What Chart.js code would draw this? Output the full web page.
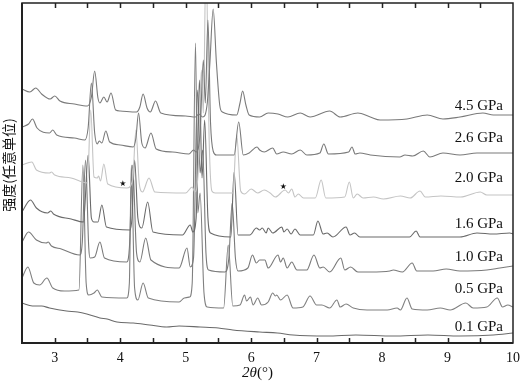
<!DOCTYPE html>
<html>
<head>
<meta charset="utf-8">
<script src="https://cdn.jsdelivr.net/npm/chart.js@4/dist/chart.umd.min.js"></script>
<style>
  html, body { margin: 0; padding: 0; background: #fff; }
</style>
</head>
<body>
<canvas id="chart" width="520" height="382"></canvas>
<script>
// XRD patterns, 2theta (deg) vs intensity (a.u., curves stacked by pressure)
const pressureLabels = ['4.5 GPa', '2.6 GPa', '2.0 GPa', '1.6 GPa', '1.0 GPa', '0.5 GPa', '0.1 GPa'];
const labelLevels = [239, 207, 167, 121, 88, 56, 18];

const gpa45 = [[2.5,254],[2.62,251],[2.71,255],[2.8,249],[2.93,244],[3.0,247],[3.08,242],[3.3,239],[3.5,237],[3.56,246],[3.61,272],[3.66,245],[3.69,240],[3.75,246],[3.8,241],[3.86,250],[3.93,233],[4.0,232],[4.25,231],[4.3,236],[4.35,249],[4.41,235],[4.46,231],[4.54,242],[4.62,230],[5.0,227],[5.15,226],[5.2,229],[5.26,226],[5.33,240],[5.37,280],[5.42,334],[5.47,280],[5.52,238],[5.56,231],[5.78,228],[5.83,240],[5.87,252],[5.92,238],[5.97,228],[6.13,226],[6.26,230],[6.41,229],[6.56,226],[6.75,230],[6.9,226],[7.2,232],[7.36,226],[7.63,230],[7.82,226],[7.97,223],[8.38,224],[8.69,228],[8.93,224],[9.19,226],[9.54,230],[9.7,228],[10,228]];

const gpa26 = [[2.5,216],[2.6,219],[2.66,224],[2.73,215],[2.92,210],[2.97,213],[3.03,208],[3.3,205],[3.46,203],[3.51,215],[3.56,260],[3.61,210],[3.65,199],[3.68,202],[3.72,200],[3.78,212],[3.84,201],[4.0,198],[4.2,196],[4.24,205],[4.28,230],[4.33,200],[4.38,195],[4.47,210],[4.55,194],[4.8,191],[5.05,189],[5.12,193],[5.16,191],[5.22,210],[5.27,283],[5.3,240],[5.34,323],[5.38,220],[5.42,192],[5.47,188],[5.74,188],[5.81,221],[5.88,188],[5.97,190],[6.09,196],[6.13,193],[6.2,191],[6.33,195],[6.39,189],[6.49,191],[6.62,189],[6.75,193],[6.85,188],[7.05,190],[7.11,199],[7.18,189],[7.49,191],[7.54,196],[7.59,189],[7.66,190],[7.82,188],[8.27,186],[8.35,188],[8.47,187],[8.63,192],[8.73,186],[8.93,190],[9.19,188],[9.45,190],[9.7,190],[10,190]];

const gpa20 = [[2.5,178],[2.65,181],[2.72,173],[2.92,170],[2.95,171],[3.0,168],[3.25,165],[3.5,160],[3.55,233],[3.6,166],[3.65,165],[3.67,167],[3.7,162],[3.75,179],[3.81,159],[4.1,155],[4.19,163],[4.24,213],[4.29,160],[4.34,151],[4.44,165],[4.53,151],[5.0,150],[5.1,156],[5.14,151],[5.19,170],[5.24,273],[5.27,230],[5.31,383],[5.36,200],[5.4,152],[5.45,150],[5.72,150],[5.78,208],[5.84,152],[5.9,149],[6.0,154],[6.1,150],[6.2,153],[6.29,150],[6.37,146],[6.52,153],[6.57,150],[6.62,154],[6.67,146],[6.72,149],[6.8,145],[6.98,145],[7.07,163],[7.14,145],[7.43,146],[7.5,161],[7.56,145],[7.62,149],[7.71,145],[7.87,146],[8.02,144],[8.28,147],[8.43,145],[8.58,152],[8.66,146],[8.9,147],[9.2,146],[9.5,151],[9.6,148],[10,148]];

const gpa16 = [[2.5,131],[2.63,143],[2.72,135],[2.89,130],[2.94,132],[2.98,129],[3.25,124],[3.44,121],[3.51,188],[3.56,125],[3.6,121],[3.66,121],[3.72,138],[3.79,116],[4.15,113],[4.18,125],[4.22,183],[4.27,125],[4.33,115],[4.42,141],[4.5,111],[4.95,108],[5.07,118],[5.11,111],[5.16,125],[5.21,263],[5.25,165],[5.29,223],[5.34,125],[5.38,110],[5.69,106],[5.74,171],[5.8,108],[5.98,108],[6.08,115],[6.13,113],[6.17,115],[6.23,110],[6.26,115],[6.33,110],[6.47,116],[6.5,111],[6.55,114],[6.61,109],[6.67,114],[6.75,108],[6.95,108],[7.02,122],[7.1,109],[7.16,110],[7.25,106],[7.45,116],[7.51,108],[7.58,110],[7.66,106],[8.42,106],[8.52,112],[8.58,106],[9.19,106],[9.45,110],[9.7,109],[9.95,110],[10,109]];

const gpa10 = [[2.5,101],[2.6,111],[2.72,103],[2.87,100],[2.9,101],[2.95,97],[3.1,94],[3.38,88],[3.42,100],[3.47,183],[3.52,95],[3.54,85],[3.61,86],[3.69,101],[3.76,85],[4.1,81],[4.14,95],[4.19,178],[4.25,90],[4.3,81],[4.39,105],[4.47,83],[4.9,75],[5.02,95],[5.07,76],[5.12,85],[5.18,253],[5.22,170],[5.26,193],[5.31,90],[5.35,73],[5.6,71],[5.66,85],[5.71,140],[5.76,85],[5.8,72],[5.95,75],[6.02,88],[6.08,80],[6.13,83],[6.21,83],[6.26,75],[6.41,88],[6.45,81],[6.49,85],[6.55,75],[6.62,81],[6.7,73],[6.85,73],[6.96,88],[7.05,75],[7.1,76],[7.2,71],[7.37,85],[7.43,73],[7.52,76],[7.63,71],[7.82,71],[8.12,72],[8.17,73],[8.31,71],[8.46,80],[8.53,72],[8.78,72],[8.98,74],[9.19,72],[9.6,73],[9.8,75],[10,77]];

const gpa05 = [[2.5,65],[2.59,76],[2.68,60],[2.77,58],[2.88,65],[2.97,55],[3.15,52],[3.37,53],[3.43,178],[3.48,60],[3.52,48],[3.6,50],[3.65,53],[3.72,46],[4.1,45],[4.14,60],[4.17,178],[4.22,55],[4.27,43],[4.35,60],[4.43,45],[4.9,41],[4.98,45],[5.06,46],[5.1,60],[5.15,300],[5.185,130],[5.22,150],[5.28,50],[5.33,36],[5.58,35],[5.65,98],[5.72,37],[5.83,38],[5.9,48],[5.93,42],[5.99,46],[6.03,38],[6.1,45],[6.16,38],[6.26,41],[6.33,50],[6.37,47],[6.39,48],[6.45,43],[6.55,48],[6.64,35],[6.79,36],[6.9,47],[7.0,38],[7.08,38],[7.2,35],[7.31,43],[7.36,36],[7.45,39],[7.56,35],[7.77,33],[8.08,33],[8.23,35],[8.28,33],[8.38,45],[8.46,34],[8.69,33],[8.89,35],[9.04,33],[9.28,40],[9.39,35],[9.6,36],[9.76,45],[9.84,36],[9.92,38],[10,36]];

const gpa01 = [[2.5,40],[2.66,37],[2.8,37],[2.92,35],[3.18,32],[3.35,31],[3.49,29],[3.69,25],[3.8,24],[3.95,21],[4.2,20],[4.45,18],[4.71,16],[4.9,17],[5.22,16],[5.5,15],[5.72,13],[6.13,11],[6.4,10],[6.64,8],[7.16,7],[7.6,8],[8.17,7],[8.7,8],[9.19,7],[9.7,8],[10,10]];

// impurity markers (*)
const starX = [4.04, 6.49];
const starY = [159, 156];

const series = [gpa45, gpa26, gpa20, gpa16, gpa10, gpa05, gpa01];
const lineColors = ['#7a7a7a', '#7a7a7a', '#c4c4c4', '#6a6a6a', '#7a7a7a', '#808080', '#6a6a6a'];

const decor = {
  id: 'decor',
  afterDraw(chart) {
    const { ctx, chartArea: a, scales: { x, y } } = chart;
    ctx.save();

    // frame
    ctx.strokeStyle = '#222';
    ctx.lineWidth = 1.5;
    ctx.strokeRect(a.left, a.top, a.right - a.left, a.bottom - a.top);
    ctx.lineWidth = 2;
    ctx.beginPath();
    ctx.moveTo(a.left, a.top);
    ctx.lineTo(a.left, a.bottom);
    ctx.lineTo(a.right, a.bottom);
    ctx.stroke();

    // inward tick marks top and bottom
    ctx.lineWidth = 1.5;
    x.ticks.forEach(t => {
      if (t.value <= x.min || t.value >= x.max) return;
      const px = Math.round(x.getPixelForValue(t.value)) + 0.5;
      ctx.beginPath();
      ctx.moveTo(px, a.bottom);
      ctx.lineTo(px, a.bottom - 5);
      ctx.moveTo(px, a.top);
      ctx.lineTo(px, a.top + 5);
      ctx.stroke();
    });

    // pressure labels
    ctx.fillStyle = '#111';
    ctx.font = '15px "Liberation Serif"';
    ctx.textAlign = 'right';
    ctx.textBaseline = 'alphabetic';
    pressureLabels.forEach((s, i) => {
      ctx.fillText(s, a.right - 10, y.getPixelForValue(labelLevels[i]) + 5.5);
    });

    // stars
    ctx.font = '8px "DejaVu Sans"';
    ctx.textAlign = 'center';
    ctx.textBaseline = 'middle';
    starX.forEach((v, i) => {
      ctx.fillText('\u2605', x.getPixelForValue(v), y.getPixelForValue(starY[i]));
    });

    // x title: 2θ(°)
    ctx.textBaseline = 'alphabetic';
    ctx.textAlign = 'left';
    const it = 'italic 15px "Liberation Serif"';
    const nm = '15px "Liberation Serif"';
    ctx.font = it;
    const w1 = ctx.measureText('2\u03b8').width;
    ctx.font = nm;
    const w2 = ctx.measureText('(\u00b0)').width;
    const x0 = (a.left + a.right) / 2 - 10 - (w1 + w2) / 2;
    ctx.font = it;
    ctx.fillText('2\u03b8', x0, 377);
    ctx.font = nm;
    ctx.fillText('(\u00b0)', x0 + w1, 377);

    // y title
    ctx.translate(9, (a.top + a.bottom) / 2 - 8);
    ctx.rotate(-Math.PI / 2);
    ctx.font = '14px "Noto Sans CJK SC"';
    ctx.textAlign = 'center';
    ctx.textBaseline = 'middle';
    ctx.fillText('强度(任意单位)', 0, 0);

    ctx.restore();
  }
};

const ctx = document.getElementById('chart').getContext('2d');
new Chart(ctx, {
  type: 'line',
  data: {
    datasets: series.map((d, i) => ({
      label: pressureLabels[i],
      data: d.map(p => ({ x: p[0], y: p[1] })),
      borderColor: lineColors[i],
      borderWidth: 1.1,
      pointRadius: 0,
      fill: false,
      cubicInterpolationMode: 'monotone'
    }))
  },
  options: {
    responsive: false,
    animation: false,
    events: [],
    layout: { padding: { left: 22, right: 0, top: 3, bottom: 12 } },
    plugins: { legend: { display: false }, tooltip: { enabled: false } },
    scales: {
      x: {
        type: 'linear',
        min: 2.5,
        max: 10,
        grid: { display: false, drawTicks: false },
        border: { display: false },
        afterFit: scale => { scale.height = 27; },
        ticks: {
          stepSize: 0.5,
          autoSkip: false,
          maxRotation: 0,
          padding: 0,
          color: '#111',
          font: { family: 'Liberation Serif', size: 14, lineHeight: 2.2 },
          callback: v => Number.isInteger(v) ? String(v) : ''
        }
      },
      y: {
        display: false,
        min: 0,
        max: 340
      }
    }
  },
  plugins: [decor]
});
</script>
</body>
</html>
